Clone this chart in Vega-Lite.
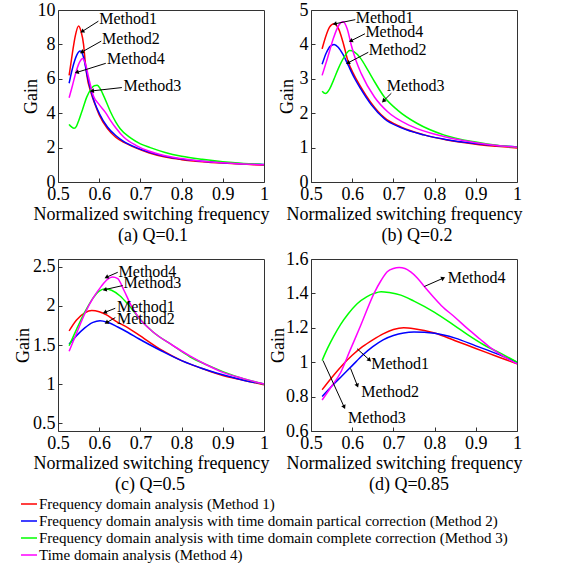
{
  "$schema": "https://vega.github.io/schema/vega-lite/v6.json",
  "background": "white",
  "padding": {"left": 13, "top": 0, "right": 0, "bottom": 0},
  "bounds": "flush",
  "columns": 2,
  "spacing": {"row": 77, "column": 47},
  "config": {
    "font": "Liberation Serif",
    "view": {"stroke": "#333333", "strokeWidth": 1},
    "axis": {
      "grid": false, "domain": false,
      "tickColor": "#333333", "tickSize": -4, "tickCount": 12,
      "labelFont": "Liberation Serif", "labelFontSize": 18, "labelColor": "#000000",
      "labelFlush": false, "labelOverlap": false, "labelPadding": 7,
      "titleFont": "Liberation Serif", "titleFontSize": 18, "titleFontWeight": "normal",
      "titleColor": "#000000", "titlePadding": 2
    },
    "axisY": {"titleBaseline": "middle"},
    "title": {"font": "Liberation Serif", "fontSize": 18, "fontWeight": "normal", "color": "#000000", "orient": "bottom", "offset": 0},
    "text": {"font": "Liberation Serif"}
  },
  "datasets": {
    "a": [
      {"f":0.527,"g":6.2,"m":"M1"},{"f":0.535,"g":7.5,"m":"M1"},{"f":0.542,"g":8.5,"m":"M1"},{"f":0.55,"g":9.07,"m":"M1"},{"f":0.556,"g":8.75,"m":"M1"},{"f":0.562,"g":8.0,"m":"M1"},{"f":0.566,"g":7.0,"m":"M1"},{"f":0.57,"g":6.2,"m":"M1"},{"f":0.58,"g":5.2,"m":"M1"},{"f":0.59,"g":4.5,"m":"M1"},{"f":0.6,"g":3.9,"m":"M1"},{"f":0.62,"g":3.1,"m":"M1"},{"f":0.64,"g":2.6,"m":"M1"},{"f":0.66,"g":2.3,"m":"M1"},{"f":0.69,"g":1.97,"m":"M1"},{"f":0.72,"g":1.7,"m":"M1"},{"f":0.76,"g":1.45,"m":"M1"},{"f":0.8,"g":1.3,"m":"M1"},{"f":0.85,"g":1.18,"m":"M1"},{"f":0.9,"g":1.1,"m":"M1"},{"f":0.95,"g":1.04,"m":"M1"},{"f":1.0,"g":0.98,"m":"M1"},
      {"f":0.527,"g":5.74,"m":"M2"},{"f":0.535,"g":6.6,"m":"M2"},{"f":0.545,"g":7.35,"m":"M2"},{"f":0.554,"g":7.61,"m":"M2"},{"f":0.562,"g":7.25,"m":"M2"},{"f":0.57,"g":6.3,"m":"M2"},{"f":0.58,"g":5.3,"m":"M2"},{"f":0.59,"g":4.55,"m":"M2"},{"f":0.6,"g":4.0,"m":"M2"},{"f":0.62,"g":3.2,"m":"M2"},{"f":0.64,"g":2.7,"m":"M2"},{"f":0.66,"g":2.35,"m":"M2"},{"f":0.69,"g":2.0,"m":"M2"},{"f":0.72,"g":1.74,"m":"M2"},{"f":0.76,"g":1.49,"m":"M2"},{"f":0.8,"g":1.33,"m":"M2"},{"f":0.85,"g":1.21,"m":"M2"},{"f":0.9,"g":1.12,"m":"M2"},{"f":0.95,"g":1.06,"m":"M2"},{"f":1.0,"g":1.02,"m":"M2"},
      {"f":0.527,"g":3.35,"m":"M3"},{"f":0.533,"g":3.2,"m":"M3"},{"f":0.539,"g":3.12,"m":"M3"},{"f":0.545,"g":3.25,"m":"M3"},{"f":0.55,"g":3.55,"m":"M3"},{"f":0.56,"g":4.25,"m":"M3"},{"f":0.57,"g":4.95,"m":"M3"},{"f":0.58,"g":5.4,"m":"M3"},{"f":0.588,"g":5.6,"m":"M3"},{"f":0.595,"g":5.62,"m":"M3"},{"f":0.603,"g":5.4,"m":"M3"},{"f":0.612,"g":4.95,"m":"M3"},{"f":0.627,"g":4.1,"m":"M3"},{"f":0.64,"g":3.5,"m":"M3"},{"f":0.651,"g":3.1,"m":"M3"},{"f":0.676,"g":2.56,"m":"M3"},{"f":0.7,"g":2.22,"m":"M3"},{"f":0.724,"g":2.0,"m":"M3"},{"f":0.76,"g":1.72,"m":"M3"},{"f":0.8,"g":1.5,"m":"M3"},{"f":0.85,"g":1.32,"m":"M3"},{"f":0.9,"g":1.18,"m":"M3"},{"f":0.95,"g":1.08,"m":"M3"},{"f":1.0,"g":1.01,"m":"M3"},
      {"f":0.527,"g":4.9,"m":"M4"},{"f":0.535,"g":5.6,"m":"M4"},{"f":0.545,"g":6.5,"m":"M4"},{"f":0.553,"g":7.0,"m":"M4"},{"f":0.56,"g":7.18,"m":"M4"},{"f":0.567,"g":6.85,"m":"M4"},{"f":0.575,"g":6.0,"m":"M4"},{"f":0.586,"g":5.0,"m":"M4"},{"f":0.6,"g":4.5,"m":"M4"},{"f":0.615,"g":4.05,"m":"M4"},{"f":0.628,"g":3.55,"m":"M4"},{"f":0.64,"g":3.15,"m":"M4"},{"f":0.66,"g":2.6,"m":"M4"},{"f":0.69,"g":2.12,"m":"M4"},{"f":0.72,"g":1.8,"m":"M4"},{"f":0.76,"g":1.53,"m":"M4"},{"f":0.8,"g":1.36,"m":"M4"},{"f":0.85,"g":1.21,"m":"M4"},{"f":0.9,"g":1.12,"m":"M4"},{"f":0.95,"g":1.05,"m":"M4"},{"f":1.0,"g":1.0,"m":"M4"}
    ],
    "b": [
      {"f":0.527,"g":3.87,"m":"M1"},{"f":0.535,"g":4.2,"m":"M1"},{"f":0.545,"g":4.5,"m":"M1"},{"f":0.556,"g":4.6,"m":"M1"},{"f":0.567,"g":4.45,"m":"M1"},{"f":0.578,"g":4.05,"m":"M1"},{"f":0.59,"g":3.5,"m":"M1"},{"f":0.605,"g":3.1,"m":"M1"},{"f":0.62,"g":2.78,"m":"M1"},{"f":0.646,"g":2.3,"m":"M1"},{"f":0.678,"g":1.87,"m":"M1"},{"f":0.718,"g":1.6,"m":"M1"},{"f":0.774,"g":1.37,"m":"M1"},{"f":0.83,"g":1.22,"m":"M1"},{"f":0.9,"g":1.1,"m":"M1"},{"f":0.95,"g":1.04,"m":"M1"},{"f":1.0,"g":0.99,"m":"M1"},
      {"f":0.527,"g":3.42,"m":"M2"},{"f":0.537,"g":3.75,"m":"M2"},{"f":0.547,"g":3.95,"m":"M2"},{"f":0.556,"g":4.0,"m":"M2"},{"f":0.566,"g":3.92,"m":"M2"},{"f":0.578,"g":3.7,"m":"M2"},{"f":0.59,"g":3.4,"m":"M2"},{"f":0.605,"g":3.03,"m":"M2"},{"f":0.62,"g":2.72,"m":"M2"},{"f":0.646,"g":2.25,"m":"M2"},{"f":0.678,"g":1.84,"m":"M2"},{"f":0.718,"g":1.58,"m":"M2"},{"f":0.774,"g":1.37,"m":"M2"},{"f":0.83,"g":1.23,"m":"M2"},{"f":0.9,"g":1.12,"m":"M2"},{"f":0.95,"g":1.06,"m":"M2"},{"f":1.0,"g":1.02,"m":"M2"},
      {"f":0.527,"g":2.64,"m":"M3"},{"f":0.535,"g":2.57,"m":"M3"},{"f":0.545,"g":2.7,"m":"M3"},{"f":0.555,"g":2.97,"m":"M3"},{"f":0.566,"g":3.29,"m":"M3"},{"f":0.58,"g":3.62,"m":"M3"},{"f":0.594,"g":3.82,"m":"M3"},{"f":0.605,"g":3.78,"m":"M3"},{"f":0.62,"g":3.6,"m":"M3"},{"f":0.638,"g":3.25,"m":"M3"},{"f":0.655,"g":2.9,"m":"M3"},{"f":0.678,"g":2.47,"m":"M3"},{"f":0.71,"g":2.09,"m":"M3"},{"f":0.758,"g":1.7,"m":"M3"},{"f":0.822,"g":1.37,"m":"M3"},{"f":0.9,"g":1.16,"m":"M3"},{"f":0.95,"g":1.07,"m":"M3"},{"f":1.0,"g":1.01,"m":"M3"},
      {"f":0.527,"g":3.1,"m":"M4"},{"f":0.54,"g":3.6,"m":"M4"},{"f":0.555,"g":4.2,"m":"M4"},{"f":0.567,"g":4.55,"m":"M4"},{"f":0.578,"g":4.66,"m":"M4"},{"f":0.588,"g":4.45,"m":"M4"},{"f":0.598,"g":3.97,"m":"M4"},{"f":0.61,"g":3.5,"m":"M4"},{"f":0.622,"g":3.15,"m":"M4"},{"f":0.654,"g":2.47,"m":"M4"},{"f":0.686,"g":2.04,"m":"M4"},{"f":0.742,"g":1.63,"m":"M4"},{"f":0.822,"g":1.32,"m":"M4"},{"f":0.9,"g":1.14,"m":"M4"},{"f":0.95,"g":1.06,"m":"M4"},{"f":1.0,"g":1.01,"m":"M4"}
    ],
    "c": [
      {"f":0.527,"g":1.68,"m":"M1"},{"f":0.545,"g":1.82,"m":"M1"},{"f":0.565,"g":1.91,"m":"M1"},{"f":0.582,"g":1.94,"m":"M1"},{"f":0.6,"g":1.925,"m":"M1"},{"f":0.62,"g":1.88,"m":"M1"},{"f":0.639,"g":1.81,"m":"M1"},{"f":0.67,"g":1.72,"m":"M1"},{"f":0.696,"g":1.63,"m":"M1"},{"f":0.753,"g":1.43,"m":"M1"},{"f":0.8,"g":1.3,"m":"M1"},{"f":0.85,"g":1.2,"m":"M1"},{"f":0.9,"g":1.11,"m":"M1"},{"f":0.95,"g":1.05,"m":"M1"},{"f":1.0,"g":0.99,"m":"M1"},
      {"f":0.527,"g":1.51,"m":"M2"},{"f":0.545,"g":1.62,"m":"M2"},{"f":0.565,"g":1.72,"m":"M2"},{"f":0.585,"g":1.79,"m":"M2"},{"f":0.602,"g":1.81,"m":"M2"},{"f":0.62,"g":1.79,"m":"M2"},{"f":0.645,"g":1.73,"m":"M2"},{"f":0.67,"g":1.66,"m":"M2"},{"f":0.696,"g":1.58,"m":"M2"},{"f":0.753,"g":1.42,"m":"M2"},{"f":0.8,"g":1.3,"m":"M2"},{"f":0.85,"g":1.2,"m":"M2"},{"f":0.9,"g":1.12,"m":"M2"},{"f":0.95,"g":1.05,"m":"M2"},{"f":1.0,"g":1.0,"m":"M2"},
      {"f":0.527,"g":1.49,"m":"M3"},{"f":0.545,"g":1.7,"m":"M3"},{"f":0.565,"g":1.92,"m":"M3"},{"f":0.585,"g":2.1,"m":"M3"},{"f":0.6,"g":2.19,"m":"M3"},{"f":0.615,"g":2.22,"m":"M3"},{"f":0.63,"g":2.2,"m":"M3"},{"f":0.65,"g":2.13,"m":"M3"},{"f":0.67,"g":2.02,"m":"M3"},{"f":0.696,"g":1.85,"m":"M3"},{"f":0.73,"g":1.67,"m":"M3"},{"f":0.777,"g":1.5,"m":"M3"},{"f":0.82,"g":1.35,"m":"M3"},{"f":0.859,"g":1.25,"m":"M3"},{"f":0.9,"g":1.16,"m":"M3"},{"f":0.95,"g":1.07,"m":"M3"},{"f":1.0,"g":1.0,"m":"M3"},
      {"f":0.527,"g":1.42,"m":"M4"},{"f":0.545,"g":1.65,"m":"M4"},{"f":0.565,"g":1.9,"m":"M4"},{"f":0.585,"g":2.1,"m":"M4"},{"f":0.605,"g":2.25,"m":"M4"},{"f":0.62,"g":2.34,"m":"M4"},{"f":0.632,"g":2.37,"m":"M4"},{"f":0.645,"g":2.35,"m":"M4"},{"f":0.66,"g":2.2,"m":"M4"},{"f":0.68,"g":1.98,"m":"M4"},{"f":0.696,"g":1.85,"m":"M4"},{"f":0.73,"g":1.67,"m":"M4"},{"f":0.777,"g":1.5,"m":"M4"},{"f":0.82,"g":1.36,"m":"M4"},{"f":0.859,"g":1.25,"m":"M4"},{"f":0.9,"g":1.15,"m":"M4"},{"f":0.95,"g":1.07,"m":"M4"},{"f":1.0,"g":1.0,"m":"M4"}
    ],
    "d": [
      {"f":0.527,"g":0.84,"m":"M1"},{"f":0.55,"g":0.91,"m":"M1"},{"f":0.575,"g":0.98,"m":"M1"},{"f":0.6,"g":1.04,"m":"M1"},{"f":0.625,"g":1.09,"m":"M1"},{"f":0.65,"g":1.13,"m":"M1"},{"f":0.675,"g":1.165,"m":"M1"},{"f":0.7,"g":1.19,"m":"M1"},{"f":0.725,"g":1.2,"m":"M1"},{"f":0.75,"g":1.195,"m":"M1"},{"f":0.8,"g":1.17,"m":"M1"},{"f":0.85,"g":1.125,"m":"M1"},{"f":0.9,"g":1.08,"m":"M1"},{"f":0.95,"g":1.035,"m":"M1"},{"f":1.0,"g":0.99,"m":"M1"},
      {"f":0.527,"g":0.8,"m":"M2"},{"f":0.55,"g":0.86,"m":"M2"},{"f":0.575,"g":0.92,"m":"M2"},{"f":0.6,"g":0.98,"m":"M2"},{"f":0.625,"g":1.04,"m":"M2"},{"f":0.65,"g":1.09,"m":"M2"},{"f":0.675,"g":1.13,"m":"M2"},{"f":0.7,"g":1.155,"m":"M2"},{"f":0.725,"g":1.17,"m":"M2"},{"f":0.75,"g":1.175,"m":"M2"},{"f":0.8,"g":1.168,"m":"M2"},{"f":0.85,"g":1.14,"m":"M2"},{"f":0.9,"g":1.095,"m":"M2"},{"f":0.95,"g":1.05,"m":"M2"},{"f":1.0,"g":1.0,"m":"M2"},
      {"f":0.527,"g":1.01,"m":"M3"},{"f":0.54,"g":1.08,"m":"M3"},{"f":0.555,"g":1.15,"m":"M3"},{"f":0.572,"g":1.22,"m":"M3"},{"f":0.59,"g":1.28,"m":"M3"},{"f":0.612,"g":1.34,"m":"M3"},{"f":0.635,"g":1.38,"m":"M3"},{"f":0.653,"g":1.4,"m":"M3"},{"f":0.67,"g":1.41,"m":"M3"},{"f":0.69,"g":1.405,"m":"M3"},{"f":0.718,"g":1.39,"m":"M3"},{"f":0.75,"g":1.355,"m":"M3"},{"f":0.8,"g":1.29,"m":"M3"},{"f":0.85,"g":1.21,"m":"M3"},{"f":0.88,"g":1.16,"m":"M3"},{"f":0.92,"g":1.1,"m":"M3"},{"f":0.962,"g":1.05,"m":"M3"},{"f":1.0,"g":1.0,"m":"M3"},
      {"f":0.527,"g":0.78,"m":"M4"},{"f":0.55,"g":0.86,"m":"M4"},{"f":0.572,"g":0.94,"m":"M4"},{"f":0.595,"g":1.07,"m":"M4"},{"f":0.62,"g":1.21,"m":"M4"},{"f":0.653,"g":1.4,"m":"M4"},{"f":0.67,"g":1.475,"m":"M4"},{"f":0.685,"g":1.526,"m":"M4"},{"f":0.7,"g":1.545,"m":"M4"},{"f":0.714,"g":1.55,"m":"M4"},{"f":0.728,"g":1.545,"m":"M4"},{"f":0.742,"g":1.525,"m":"M4"},{"f":0.758,"g":1.49,"m":"M4"},{"f":0.775,"g":1.44,"m":"M4"},{"f":0.795,"g":1.385,"m":"M4"},{"f":0.816,"g":1.33,"m":"M4"},{"f":0.85,"g":1.26,"m":"M4"},{"f":0.88,"g":1.195,"m":"M4"},{"f":0.91,"g":1.135,"m":"M4"},{"f":0.938,"g":1.08,"m":"M4"},{"f":0.97,"g":1.03,"m":"M4"},{"f":1.0,"g":0.99,"m":"M4"}
    ],
    "na": [
      {"label":"Method1","tx":0.6,"ty":9.46,"x1":0.598,"y1":9.35,"x2":0.56,"y2":8.77,"ang":-122.7},
      {"label":"Method2","tx":0.607,"ty":8.34,"x1":0.605,"y1":8.19,"x2":0.559,"y2":7.57,"ang":-119.8},
      {"label":"Method4","tx":0.619,"ty":7.15,"x1":0.616,"y1":6.9,"x2":0.547,"y2":6.38,"ang":-107.6},
      {"label":"Method3","tx":0.659,"ty":5.61,"x1":0.655,"y1":5.49,"x2":0.584,"y2":5.3,"ang":-96.4}
    ],
    "nb": [
      {"label":"Method1","tx":0.6085,"ty":4.76,"x1":0.6075,"y1":4.72,"x2":0.559,"y2":4.6,"ang":-102.1},
      {"label":"Method4","tx":0.632,"ty":4.37,"x1":0.631,"y1":4.31,"x2":0.598,"y2":4.11,"ang":-115.6},
      {"label":"Method2","tx":0.64,"ty":3.83,"x1":0.639,"y1":3.77,"x2":0.591,"y2":3.47,"ang":-117.9},
      {"label":"Method3","tx":0.684,"ty":2.79,"x1":0.695,"y1":2.58,"x2":0.677,"y2":2.37,"ang":-135}
    ],
    "nc": [
      {"label":"Method4","tx":0.647,"ty":2.44,"x1":0.645,"y1":2.43,"x2":0.619,"y2":2.37,"ang":-115.7},
      {"label":"Method3","tx":0.659,"ty":2.29,"x1":0.657,"y1":2.26,"x2":0.615,"y2":2.21,"ang":-104},
      {"label":"Method1","tx":0.643,"ty":1.98,"x1":0.639,"y1":1.97,"x2":0.615,"y2":1.92,"ang":-111.8},
      {"label":"Method2","tx":0.643,"ty":1.83,"x1":0.639,"y1":1.85,"x2":0.619,"y2":1.79,"ang":-121.1}
    ],
    "nd": [
      {"label":"Method4","tx":0.832,"ty":1.487,"x1":0.775,"y1":1.44,"x2":0.8195,"y2":1.487,"ang":65.3},
      {"label":"Method1","tx":0.646,"ty":0.99,"x1":0.612,"y1":1.078,"x2":0.641,"y2":1.015,"ang":132.4},
      {"label":"Method2","tx":0.622,"ty":0.824,"x1":0.596,"y1":0.964,"x2":0.612,"y2":0.867,"ang":158.3},
      {"label":"Method3","tx":0.59,"ty":0.678,"x1":0.529,"y1":1.01,"x2":0.58,"y2":0.742,"ang":155.6}
    ]
  },
  "concat": [
    {
      "width": 206, "height": 172,
      "title": {"text": "(a) Q=0.1", "dx": -8},
      "layer": [
        {"data": {"name": "a"}, "mark": {"type": "line", "strokeWidth": 1.5, "interpolate": "monotone"},
         "encoding": {
           "x": {"field": "f", "type": "quantitative", "scale": {"domain": [0.5, 1]}, "axis": {"values": [0.5,0.6,0.7,0.8,0.9,1], "format": ".2~f", "titleX": 93, "tickCount": 12}, "title": "Normalized switching frequency"},
           "y": {"field": "g", "type": "quantitative", "scale": {"domain": [0, 10]}, "axis": {"values": [0,2,4,6,8,10], "format": ".2~f", "tickCount": 12, "titleX": -27}, "title": "Gain"},
           "color": {"field": "m", "type": "nominal", "scale": {"domain": ["M1","M2","M3","M4"], "range": ["#ff0000","#0000ff","#00ff00","#ff00ff"]},
             "legend": {"orient": "none", "legendX": -38, "legendY": 485, "direction": "vertical", "title": null, "symbolType": "stroke", "symbolSize": 256, "symbolStrokeWidth": 1.5, "labelFont": "Liberation Serif", "labelFontSize": 15, "labelColor": "#000000", "labelLimit": 600, "labelOffset": 1, "rowPadding": 0,
               "labelExpr": "{'M1':'Frequency domain analysis (Method 1)','M2':'Frequency domain analysis with time domain partical correction (Method 2)','M3':'Frequency domain analysis with time domain complete correction (Method 3)','M4':'Time domain analysis (Method 4)'}[datum.label]"}}
         }},
        {"data": {"name": "na"}, "mark": {"type": "rule", "color": "#000000", "strokeWidth": 1},
         "encoding": {"x": {"field": "x1", "type": "quantitative", "title": "Normalized switching frequency"}, "y": {"field": "y1", "type": "quantitative", "title": "Gain"}, "x2": {"field": "x2"}, "y2": {"field": "y2"}}},
        {"data": {"name": "na"}, "mark": {"type": "point", "shape": "triangle", "filled": true, "color": "#000000", "size": 22, "opacity": 1},
         "encoding": {"x": {"field": "x2", "type": "quantitative", "title": "Normalized switching frequency"}, "y": {"field": "y2", "type": "quantitative", "title": "Gain"}, "angle": {"field": "ang", "type": "quantitative", "scale": null}}},
        {"data": {"name": "na"}, "mark": {"type": "text", "align": "left", "baseline": "middle", "fontSize": 16, "color": "#000000"},
         "encoding": {"x": {"field": "tx", "type": "quantitative", "title": "Normalized switching frequency"}, "y": {"field": "ty", "type": "quantitative", "title": "Gain"}, "text": {"field": "label"}}}
      ]
    },
    {
      "width": 206, "height": 172,
      "title": {"text": "(b) Q=0.2", "dx": 3},
      "layer": [
        {"data": {"name": "b"}, "mark": {"type": "line", "strokeWidth": 1.5, "interpolate": "monotone"},
         "encoding": {
           "x": {"field": "f", "type": "quantitative", "scale": {"domain": [0.5, 1]}, "axis": {"values": [0.5,0.6,0.7,0.8,0.9,1], "format": ".2~f", "titleX": 93, "tickCount": 12}, "title": "Normalized switching frequency"},
           "y": {"field": "g", "type": "quantitative", "scale": {"domain": [0, 5]}, "axis": {"values": [0,1,2,3,4,5], "format": ".2~f", "tickCount": 12, "titleX": -24}, "title": "Gain"},
           "color": {"field": "m", "type": "nominal", "scale": {"domain": ["M1","M2","M3","M4"], "range": ["#ff0000","#0000ff","#00ff00","#ff00ff"]},
             "legend": {"orient": "none", "legendX": -38, "legendY": 485, "direction": "vertical", "title": null, "symbolType": "stroke", "symbolSize": 256, "symbolStrokeWidth": 1.5, "labelFont": "Liberation Serif", "labelFontSize": 15, "labelColor": "#000000", "labelLimit": 600, "labelOffset": 1, "rowPadding": 0,
               "labelExpr": "{'M1':'Frequency domain analysis (Method 1)','M2':'Frequency domain analysis with time domain partical correction (Method 2)','M3':'Frequency domain analysis with time domain complete correction (Method 3)','M4':'Time domain analysis (Method 4)'}[datum.label]"}}
         }},
        {"data": {"name": "nb"}, "mark": {"type": "rule", "color": "#000000", "strokeWidth": 1},
         "encoding": {"x": {"field": "x1", "type": "quantitative", "title": "Normalized switching frequency"}, "y": {"field": "y1", "type": "quantitative", "title": "Gain"}, "x2": {"field": "x2"}, "y2": {"field": "y2"}}},
        {"data": {"name": "nb"}, "mark": {"type": "point", "shape": "triangle", "filled": true, "color": "#000000", "size": 22, "opacity": 1},
         "encoding": {"x": {"field": "x2", "type": "quantitative", "title": "Normalized switching frequency"}, "y": {"field": "y2", "type": "quantitative", "title": "Gain"}, "angle": {"field": "ang", "type": "quantitative", "scale": null}}},
        {"data": {"name": "nb"}, "mark": {"type": "text", "align": "left", "baseline": "middle", "fontSize": 16, "color": "#000000"},
         "encoding": {"x": {"field": "tx", "type": "quantitative", "title": "Normalized switching frequency"}, "y": {"field": "ty", "type": "quantitative", "title": "Gain"}, "text": {"field": "label"}}}
      ]
    },
    {
      "width": 206, "height": 172,
      "title": {"text": "(c) Q=0.5", "dx": -11},
      "layer": [
        {"data": {"name": "c"}, "mark": {"type": "line", "strokeWidth": 1.5, "interpolate": "monotone"},
         "encoding": {
           "x": {"field": "f", "type": "quantitative", "scale": {"domain": [0.5, 1]}, "axis": {"values": [0.5,0.6,0.7,0.8,0.9,1], "format": ".2~f", "titleX": 93, "tickCount": 12}, "title": "Normalized switching frequency"},
           "y": {"field": "g", "type": "quantitative", "scale": {"domain": [0.5, 2.5]}, "axis": {"values": [0.5,1,1.5,2,2.5], "format": ".2~f", "tickCount": 12, "titleX": -35}, "title": "Gain"},
           "color": {"field": "m", "type": "nominal", "scale": {"domain": ["M1","M2","M3","M4"], "range": ["#ff0000","#0000ff","#00ff00","#ff00ff"]},
             "legend": {"orient": "none", "legendX": -38, "legendY": 485, "direction": "vertical", "title": null, "symbolType": "stroke", "symbolSize": 256, "symbolStrokeWidth": 1.5, "labelFont": "Liberation Serif", "labelFontSize": 15, "labelColor": "#000000", "labelLimit": 600, "labelOffset": 1, "rowPadding": 0,
               "labelExpr": "{'M1':'Frequency domain analysis (Method 1)','M2':'Frequency domain analysis with time domain partical correction (Method 2)','M3':'Frequency domain analysis with time domain complete correction (Method 3)','M4':'Time domain analysis (Method 4)'}[datum.label]"}}
         }},
        {"data": {"name": "nc"}, "mark": {"type": "rule", "color": "#000000", "strokeWidth": 1},
         "encoding": {"x": {"field": "x1", "type": "quantitative", "title": "Normalized switching frequency"}, "y": {"field": "y1", "type": "quantitative", "title": "Gain"}, "x2": {"field": "x2"}, "y2": {"field": "y2"}}},
        {"data": {"name": "nc"}, "mark": {"type": "point", "shape": "triangle", "filled": true, "color": "#000000", "size": 22, "opacity": 1},
         "encoding": {"x": {"field": "x2", "type": "quantitative", "title": "Normalized switching frequency"}, "y": {"field": "y2", "type": "quantitative", "title": "Gain"}, "angle": {"field": "ang", "type": "quantitative", "scale": null}}},
        {"data": {"name": "nc"}, "mark": {"type": "text", "align": "left", "baseline": "middle", "fontSize": 16, "color": "#000000"},
         "encoding": {"x": {"field": "tx", "type": "quantitative", "title": "Normalized switching frequency"}, "y": {"field": "ty", "type": "quantitative", "title": "Gain"}, "text": {"field": "label"}}}
      ]
    },
    {
      "width": 206, "height": 172,
      "title": {"text": "(d) Q=0.85", "dx": -5},
      "layer": [
        {"data": {"name": "d"}, "mark": {"type": "line", "strokeWidth": 1.5, "interpolate": "monotone"},
         "encoding": {
           "x": {"field": "f", "type": "quantitative", "scale": {"domain": [0.5, 1]}, "axis": {"values": [0.5,0.6,0.7,0.8,0.9,1], "format": ".2~f", "titleX": 93, "tickCount": 12}, "title": "Normalized switching frequency"},
           "y": {"field": "g", "type": "quantitative", "scale": {"domain": [0.6, 1.6]}, "axis": {"values": [0.6,0.8,1,1.2,1.4,1.6], "format": ".2~f", "tickCount": 12, "titleX": -33}, "title": "Gain"},
           "color": {"field": "m", "type": "nominal", "scale": {"domain": ["M1","M2","M3","M4"], "range": ["#ff0000","#0000ff","#00ff00","#ff00ff"]},
             "legend": {"orient": "none", "legendX": -38, "legendY": 485, "direction": "vertical", "title": null, "symbolType": "stroke", "symbolSize": 256, "symbolStrokeWidth": 1.5, "labelFont": "Liberation Serif", "labelFontSize": 15, "labelColor": "#000000", "labelLimit": 600, "labelOffset": 1, "rowPadding": 0,
               "labelExpr": "{'M1':'Frequency domain analysis (Method 1)','M2':'Frequency domain analysis with time domain partical correction (Method 2)','M3':'Frequency domain analysis with time domain complete correction (Method 3)','M4':'Time domain analysis (Method 4)'}[datum.label]"}}
         }},
        {"data": {"name": "nd"}, "mark": {"type": "rule", "color": "#000000", "strokeWidth": 1},
         "encoding": {"x": {"field": "x1", "type": "quantitative", "title": "Normalized switching frequency"}, "y": {"field": "y1", "type": "quantitative", "title": "Gain"}, "x2": {"field": "x2"}, "y2": {"field": "y2"}}},
        {"data": {"name": "nd"}, "mark": {"type": "point", "shape": "triangle", "filled": true, "color": "#000000", "size": 22, "opacity": 1},
         "encoding": {"x": {"field": "x2", "type": "quantitative", "title": "Normalized switching frequency"}, "y": {"field": "y2", "type": "quantitative", "title": "Gain"}, "angle": {"field": "ang", "type": "quantitative", "scale": null}}},
        {"data": {"name": "nd"}, "mark": {"type": "text", "align": "left", "baseline": "middle", "fontSize": 16, "color": "#000000"},
         "encoding": {"x": {"field": "tx", "type": "quantitative", "title": "Normalized switching frequency"}, "y": {"field": "ty", "type": "quantitative", "title": "Gain"}, "text": {"field": "label"}}}
      ]
    }
  ]
}
